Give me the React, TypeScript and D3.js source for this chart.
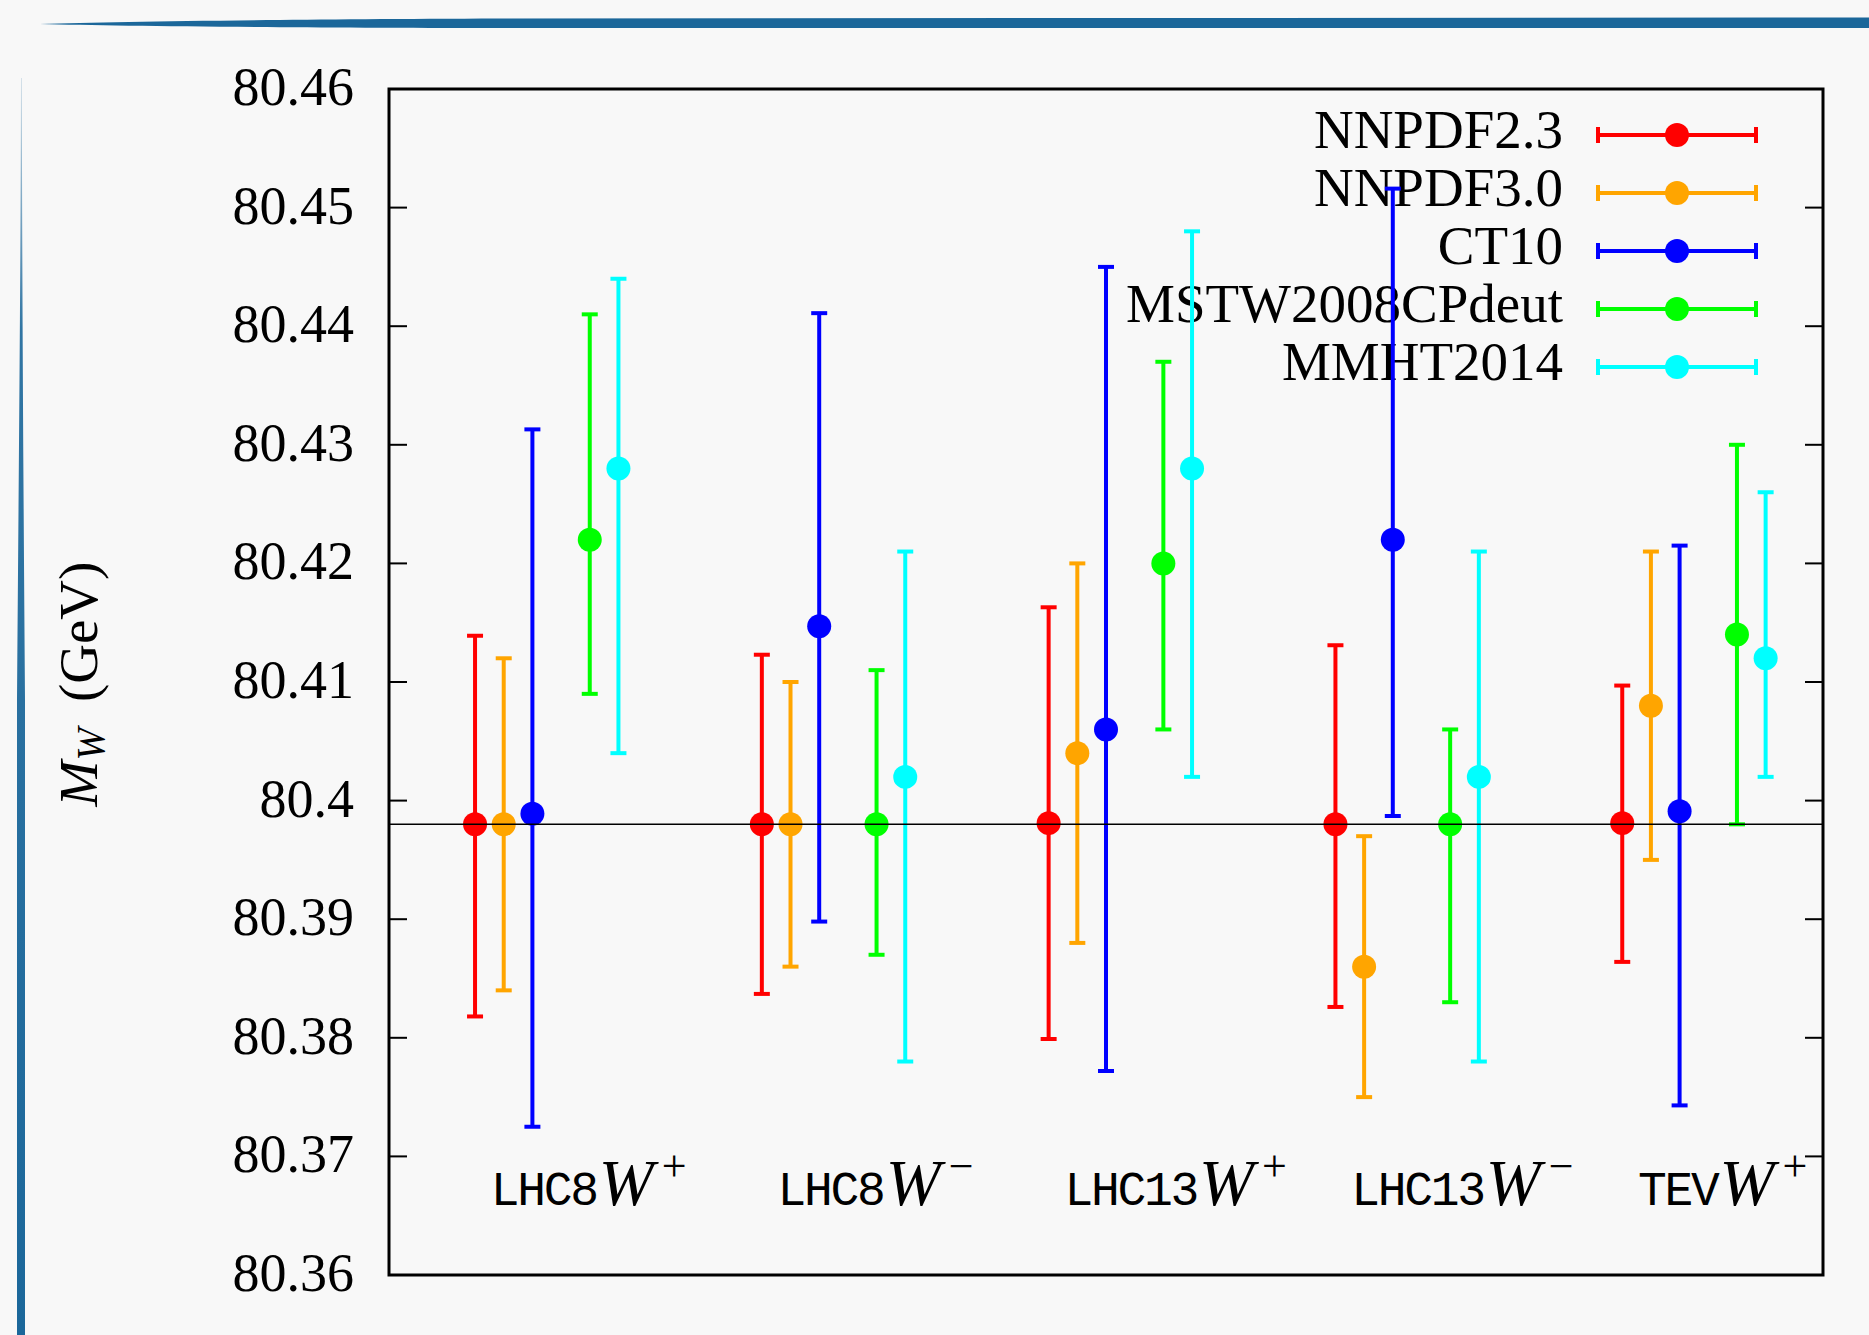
import React from "react";
import * as d3 from "d3";

// ---- data ----
const categories = ["LHC8", "LHC8", "LHC13", "LHC13", "TEV"];
const charges = ["+", "\u2212", "+", "\u2212", "+"];
const seriesNames = ["NNPDF2.3", "NNPDF3.0", "CT10", "MSTW2008CPdeut", "MMHT2014"];
const seriesColors = ["#ff0000", "#ffa500", "#0000ff", "#00ff00", "#00ffff"];
const seriesOffsets = [0, 0.1, 0.2, 0.4, 0.5];

const nnpdf23Central = [80.398, 80.398, 80.3981, 80.398, 80.3981];
const nnpdf23Low = [80.3818, 80.3837, 80.3799, 80.3826, 80.3864];
const nnpdf23High = [80.4139, 80.4123, 80.4163, 80.4131, 80.4097];

const nnpdf30Central = [80.398, 80.398, 80.404, 80.386, 80.408];
const nnpdf30Low = [80.384, 80.386, 80.388, 80.375, 80.395];
const nnpdf30High = [80.412, 80.41, 80.42, 80.397, 80.421];

const ct10Central = [80.3989, 80.4147, 80.406, 80.422, 80.3991];
const ct10Low = [80.3725, 80.3898, 80.3772, 80.3987, 80.3743];
const ct10High = [80.4313, 80.4411, 80.445, 80.4516, 80.4215];

const mstwCentral = [80.422, 80.398, 80.42, 80.398, 80.414];
const mstwLow = [80.409, 80.387, 80.406, 80.383, 80.398];
const mstwHigh = [80.441, 80.411, 80.437, 80.406, 80.43];

const mmhtCentral = [80.428, 80.402, 80.428, 80.402, 80.412];
const mmhtLow = [80.404, 80.378, 80.402, 80.378, 80.402];
const mmhtHigh = [80.444, 80.421, 80.448, 80.421, 80.426];

const yTicks = [80.36, 80.37, 80.38, 80.39, 80.4, 80.41, 80.42, 80.43, 80.44, 80.45, 80.46];
const referenceValue = 80.398;

const seriesCentral = [nnpdf23Central, nnpdf30Central, ct10Central, mstwCentral, mmhtCentral];
const seriesLow = [nnpdf23Low, nnpdf30Low, ct10Low, mstwLow, mmhtLow];
const seriesHigh = [nnpdf23High, nnpdf30High, ct10High, mstwHigh, mmhtHigh];

// ---- layout ----
const W = 1869;
const H = 1335;
const left = 389;
const right = 1823;
const top = 89;
const bottom = 1275;

const SERIF = "'Liberation Serif', 'DejaVu Serif', serif";
const MONO = "'Liberation Mono', 'DejaVu Sans Mono', monospace";
const BLUE = "#1b679a";

export default function App() {
  const x = d3.scaleLinear().domain([0.7, 5.7]).range([left, right]);
  const y = d3.scaleLinear().domain([80.36, 80.46]).range([bottom, top]);
  const tickFmt = d3.format("");
  const labelValue = 80.3659;

  const legendX0 = 1598;
  const legendX1 = 1756;
  const legendMarkX = 1677;
  const legendY0 = 135;
  const legendDY = 58;
  const legendTextX = 1563;

  const r = 12;
  const cap = 8;
  const sw = 4;

  return (
    <svg
      width={W}
      height={H}
      viewBox={`0 0 ${W} ${H}`}
      style={{ position: "absolute", left: 0, top: 0, display: "block" }}
    >
      <defs>
        <linearGradient id="leftBarGrad" x1="0" y1="0" x2="0" y2="1" gradientUnits="objectBoundingBox">
          <stop offset="0" stopColor={BLUE} stopOpacity={0.2} />
          <stop offset="0.2" stopColor={BLUE} stopOpacity={0.9} />
          <stop offset="1" stopColor={BLUE} stopOpacity={1} />
        </linearGradient>
      </defs>
      <rect x={0} y={0} width={W} height={H} fill="#f8f8f8" />

      {/* decorative bars */}
      <path
        d="M40,24 C120,21.5 260,19.5 500,18.5 L1869,17.5 L1869,28 L500,28 C260,27.5 120,26 40,24 Z"
        fill={BLUE}
      />
      <path
        d="M21,78 C20.5,300 18.5,500 17,700 L17,1335 L25,1335 L25,700 C23.5,500 22.2,300 21.8,78 Z"
        fill="url(#leftBarGrad)"
      />

      {/* y tick labels */}
      {yTicks.map((t) => (
        <text
          key={"yl" + t}
          x={354}
          y={y(t) + 16}
          textAnchor="end"
          fontFamily={SERIF}
          fontSize={54}
          fill="#000"
        >
          {tickFmt(t)}
        </text>
      ))}

      {/* y ticks left & right */}
      {yTicks.map((t) => (
        <g key={"yt" + t} stroke="#000" strokeWidth={2}>
          <line x1={left} x2={left + 18} y1={y(t)} y2={y(t)} />
          <line x1={right} x2={right - 18} y1={y(t)} y2={y(t)} />
        </g>
      ))}

      {/* y axis title */}
      <text
        transform={`translate(97,684) rotate(-90)`}
        textAnchor="middle"
        fontFamily={SERIF}
        fontSize={55}
        fill="#000"
      >
        <tspan fontStyle="italic">M</tspan>
        <tspan fontStyle="italic" fontSize={39} dy={7}>W</tspan>
        <tspan dy={-7} dx={26}>(GeV)</tspan>
      </text>

      {/* category labels */}
      {categories.map((c, i) => (
        <text key={"cl" + i} x={x(i + 1 + 0.055)} y={y(labelValue)} fill="#000">
          <tspan fontFamily={MONO} fontSize={48} letterSpacing={-2.3}>{c}</tspan>
          <tspan fontFamily={SERIF} fontStyle="italic" fontSize={66} dx={2}>W</tspan>
          <tspan fontFamily={SERIF} fontSize={44} dx={8} dy={-24}>{charges[i]}</tspan>
        </text>
      ))}

      {/* legend text */}
      {seriesNames.map((n, s) => (
        <text
          key={"lt" + s}
          x={legendTextX}
          y={legendY0 + s * legendDY + 13}
          textAnchor="end"
          fontFamily={SERIF}
          fontSize={55}
          fill="#000"
        >
          {n}
        </text>
      ))}

      {/* series: legend sample + error bars */}
      {seriesNames.map((n, s) => {
        const col = seriesColors[s];
        const ly = legendY0 + s * legendDY;
        return (
          <g key={"s" + s} stroke={col} fill={col} strokeWidth={sw}>
            <line x1={legendX0} x2={legendX1} y1={ly} y2={ly} />
            <line x1={legendX0} x2={legendX0} y1={ly - cap} y2={ly + cap} />
            <line x1={legendX1} x2={legendX1} y1={ly - cap} y2={ly + cap} />
            <circle cx={legendMarkX} cy={ly} r={r} stroke="none" />
            {seriesCentral[s].map((v, i) => {
              const cx = x(i + 1 + seriesOffsets[s]);
              const yl = y(seriesLow[s][i]);
              const yh = y(seriesHigh[s][i]);
              return (
                <g key={"p" + i}>
                  <line x1={cx} x2={cx} y1={yl} y2={yh} />
                  <line x1={cx - cap} x2={cx + cap} y1={yl} y2={yl} />
                  <line x1={cx - cap} x2={cx + cap} y1={yh} y2={yh} />
                  <circle cx={cx} cy={y(v)} r={r} stroke="none" />
                </g>
              );
            })}
          </g>
        );
      })}

      {/* reference line */}
      <line
        x1={left}
        x2={right}
        y1={y(referenceValue)}
        y2={y(referenceValue)}
        stroke="#000"
        strokeWidth={1.4}
      />

      {/* frame */}
      <rect
        x={left}
        y={top}
        width={right - left}
        height={bottom - top}
        fill="none"
        stroke="#000"
        strokeWidth={3}
      />
    </svg>
  );
}
